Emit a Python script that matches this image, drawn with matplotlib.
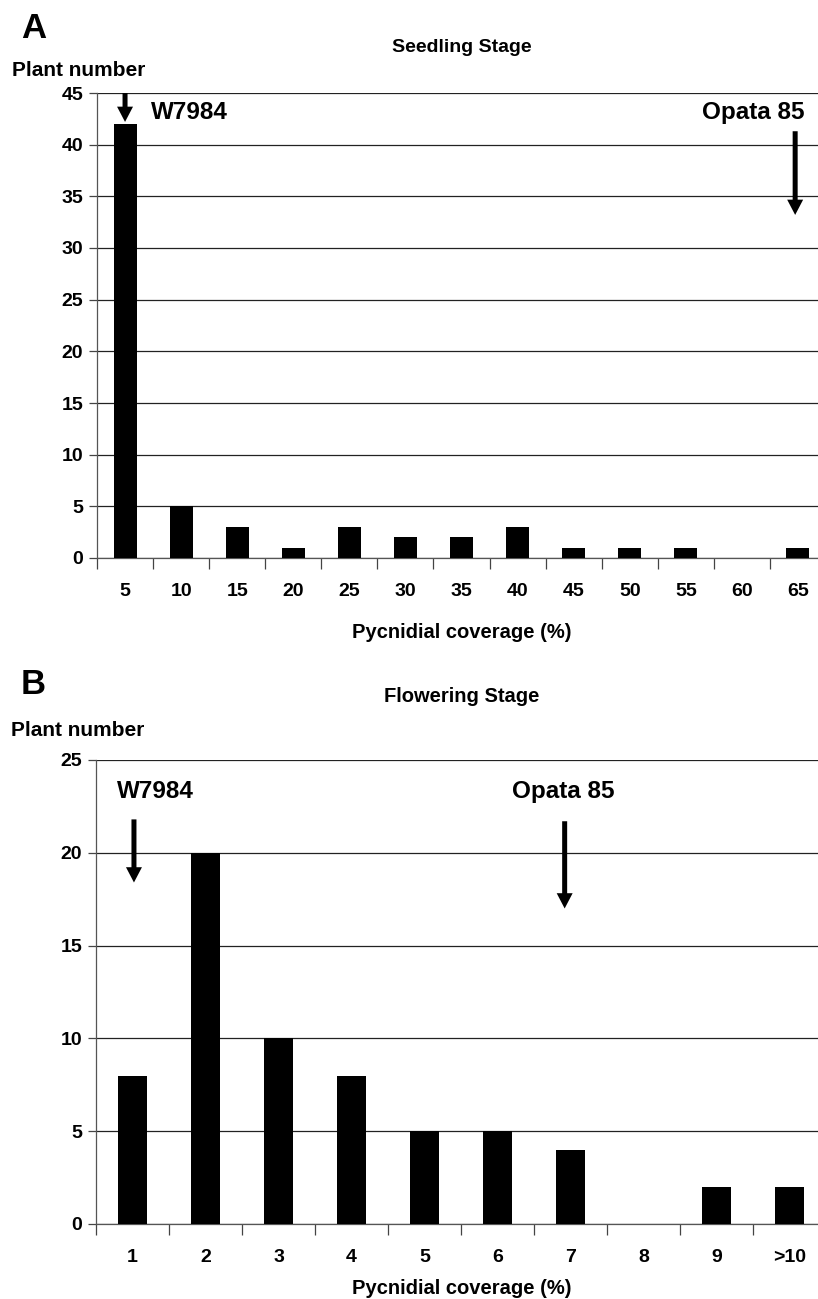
import numpy as np
import matplotlib
matplotlib.use("Agg")
import matplotlib.pyplot as plt

plt.rcParams['font.family'] = ['Liberation Sans', 'DejaVu Sans']
plt.rcParams['font.weight'] = 'bold'

# Panel A - seedling stage
seed_cats = ['5', '10', '15', '20', '25', '30', '35', '40', '45', '50', '55', '60', '65']
seed_counts = [42, 5, 3, 1, 3, 2, 2, 3, 1, 1, 1, 0, 1]

# Panel B - flowering stage
flow_cats = ['1', '2', '3', '4', '5', '6', '7', '8', '9', '>10']
flow_counts = [8, 20, 10, 8, 5, 5, 4, 0, 2, 2]

W, H = 818, 1299
fig = plt.figure(figsize=(W / 100, H / 100), dpi=100)


def px(x, y):
    return x / W, 1 - y / H


def panel(rect, cats, counts, ymax, ystep):
    ax = fig.add_axes(rect)
    n = len(cats)
    pos = np.arange(n)
    ax.bar(pos, counts, width=0.41, color='black', zorder=3)
    ax.set_xlim(-0.5, n - 0.5)
    ax.set_ylim(0, ymax)
    ax.set_yticks(np.arange(0, ymax + 1, ystep))
    ax.grid(axis='y', color='#222222', lw=0.9, zorder=0)
    ax.set_xticks(pos)
    ax.set_xticklabels(cats)
    ax.set_xticks(np.arange(n + 1) - 0.5, minor=True)
    ax.tick_params(axis='x', which='major', length=0, pad=18, labelsize=14)
    ax.tick_params(axis='x', which='minor', length=8, width=0.9, color='#444444')
    ax.tick_params(axis='y', length=6, width=0.9, color='#444444', labelsize=14, pad=4)
    for s in ['top', 'right']:
        ax.spines[s].set_visible(False)
    for s in ['left', 'bottom']:
        ax.spines[s].set_color('#555555')
        ax.spines[s].set_linewidth(0.9)
    for lab in ax.get_xticklabels() + ax.get_yticklabels():
        lab.set_fontweight('bold')
    return ax


axA = panel([97 / W, 1 - 558 / H, (826 - 97) / W, (558 - 93) / H],
            seed_cats, seed_counts, 45, 5)
axB = panel([96 / W, 1 - 1224 / H, (826 - 96) / W, (1224 - 760) / H],
            flow_cats, flow_counts, 25, 5)

arrow = dict(arrowstyle='simple,head_length=1.1,head_width=1.15,tail_width=0.36',
             color='black', lw=0, shrinkA=0, shrinkB=0, mutation_scale=10)

# annotations panel A
axA.annotate('', xy=(0, 42.2), xytext=(0, 45), arrowprops=arrow, zorder=5)
axA.text(0.47, 43.1, 'W7984', fontsize=17.5, fontweight='bold', va='center', ha='left')
axA.annotate('', xy=(11.95, 33.2), xytext=(11.95, 41.3), arrowprops=arrow, zorder=5)
axA.text(12.12, 43.1, 'Opata 85', fontsize=17.5, fontweight='bold', va='center', ha='right')

# annotations panel B
axB.annotate('', xy=(0.02, 18.4), xytext=(0.02, 21.8), arrowprops=arrow, zorder=5)
axB.text(0.31, 23.3, 'W7984', fontsize=17.5, fontweight='bold', va='center', ha='center')
axB.annotate('', xy=(5.92, 17.0), xytext=(5.92, 21.7), arrowprops=arrow, zorder=5)
axB.text(5.9, 23.3, 'Opata 85', fontsize=17.5, fontweight='bold', va='center', ha='center')

# titles and labels
fig.text(*px(21, 28), 'A', fontsize=25, fontweight='bold', va='center', ha='left')
fig.text(*px(462, 48), 'Seedling Stage', fontsize=14, fontweight='bold', va='center', ha='center')
fig.text(*px(12, 70), 'Plant number', fontsize=15, fontweight='bold', va='center', ha='left')
fig.text(*px(462, 633), 'Pycnidial coverage (%)', fontsize=14.5, fontweight='bold', va='center', ha='center')

fig.text(*px(21, 685), 'B', fontsize=25, fontweight='bold', va='center', ha='left')
fig.text(*px(462, 697), 'Flowering Stage', fontsize=14.5, fontweight='bold', va='center', ha='center')
fig.text(*px(11, 731), 'Plant number', fontsize=15, fontweight='bold', va='center', ha='left')
fig.text(*px(462, 1288), 'Pycnidial coverage (%)', fontsize=14.5, fontweight='bold', va='center', ha='center')

fig.savefig('out.png', dpi=100)
